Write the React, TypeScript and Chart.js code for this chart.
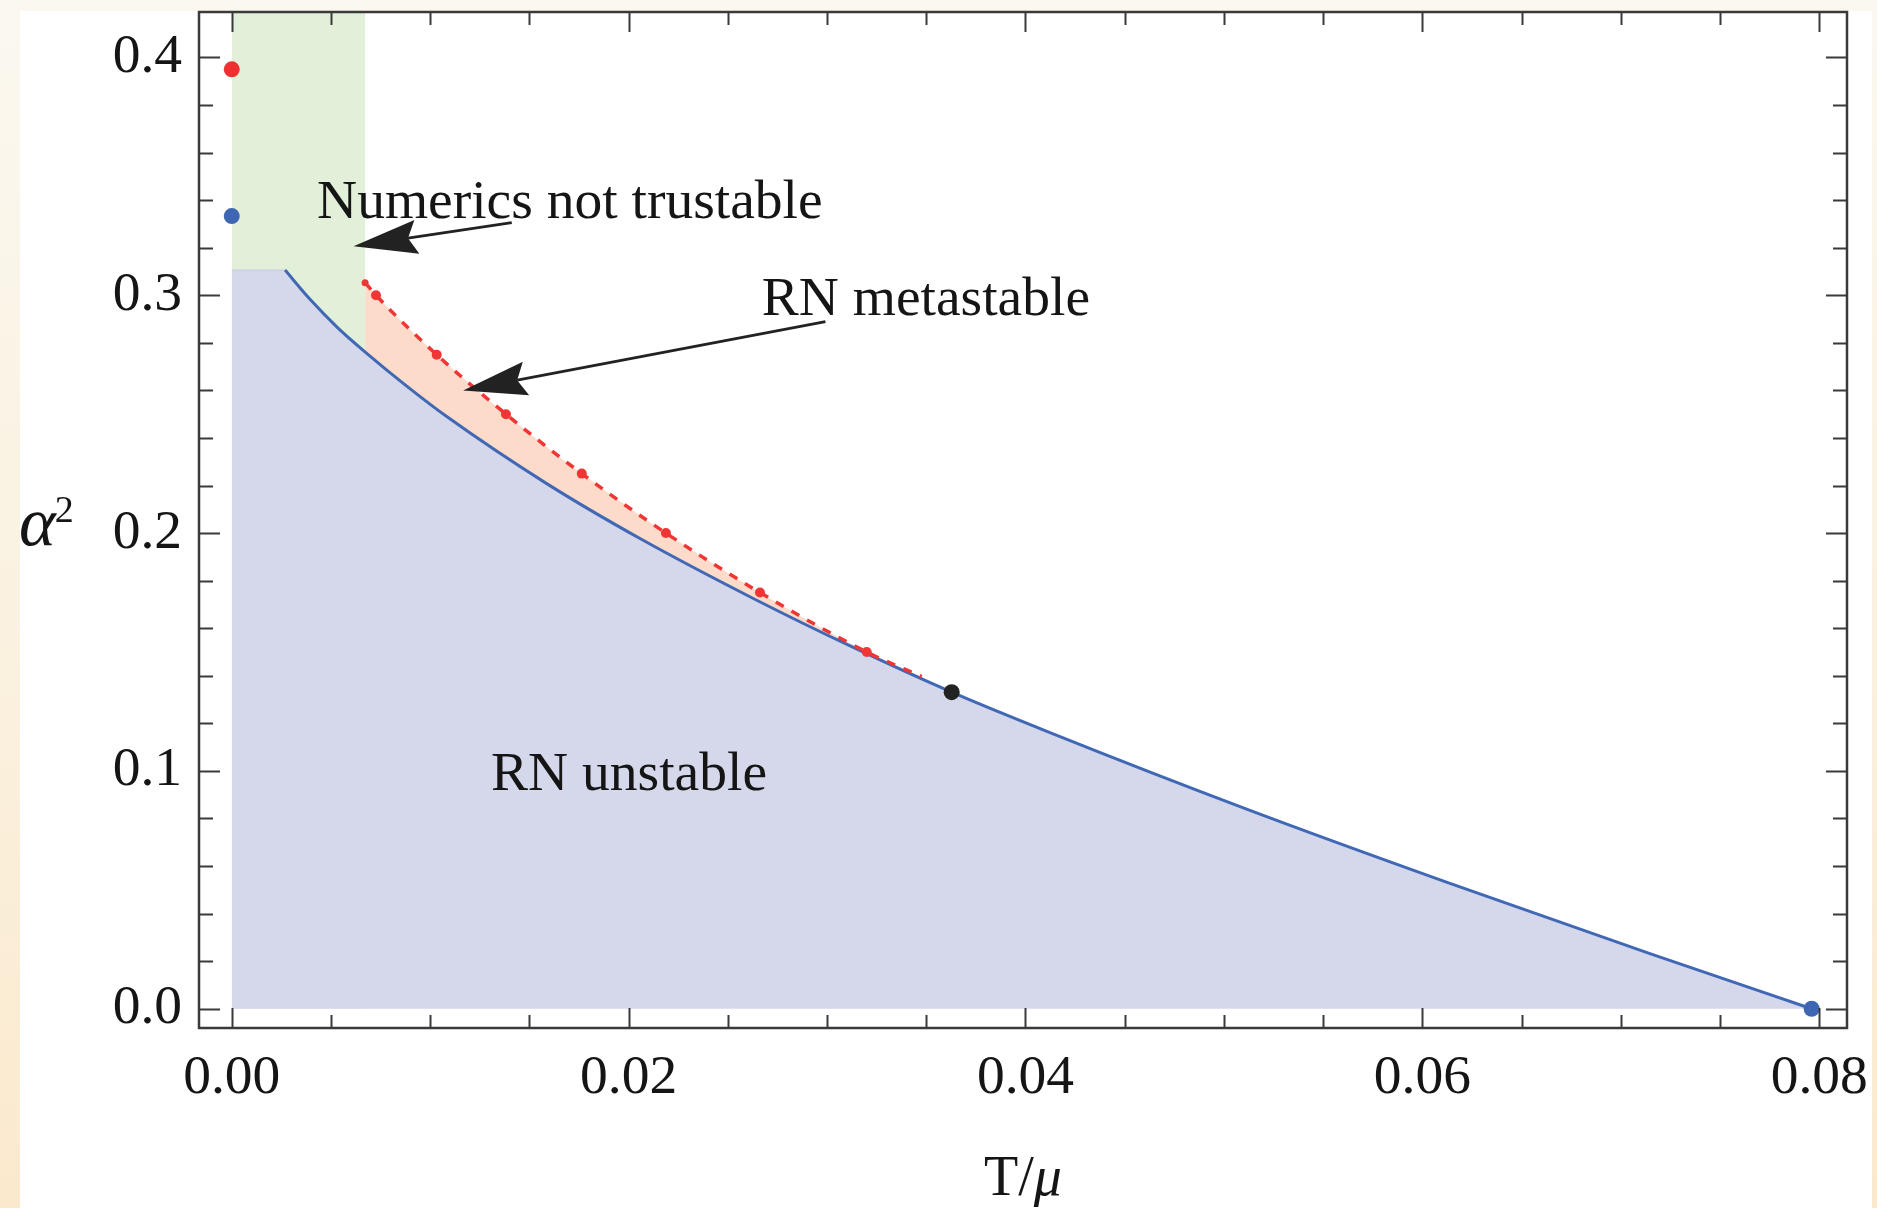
import React, { useEffect, useRef } from 'react';
import { Chart, registerables } from 'chart.js';

Chart.register(...registerables);

// ---------------- data ----------------
// Phase boundary (blue solid curve), T/mu vs alpha^2
const blueT = [0.002686, 0.003946, 0.005357, 0.006803, 0.008818, 0.010834, 0.015873, 0.020575, 0.026284, 0.031323, 0.036281, 0.041234, 0.051312, 0.061391, 0.071469, 0.079617];
const blueA = [0.3106, 0.2983, 0.2862, 0.2756, 0.2618, 0.249, 0.2208, 0.1977, 0.1725, 0.1519, 0.1331, 0.1161, 0.0834, 0.0527, 0.0232, 0.0];

// Flat top of the unstable region (x from 0 to the start of the blue curve)
const flatT = [0, 0.002686];
const flatA = [0.3106, 0.3106];

// Metastability boundary (red dashed curve)
const redT = [0.00672, 0.00727, 0.01033, 0.01382, 0.01764, 0.02188, 0.02662, 0.032, 0.03477];
const redA = [0.3053, 0.3, 0.275, 0.25, 0.225, 0.2, 0.175, 0.15, 0.1397];
const redMarkerSizes = [3.5, 5, 5, 5, 5, 5, 5, 5, 0];

// "Numerics not trustable" band
const greenT = [0, 0.00672];
const greenA = [0.4191, 0.4191];

// Isolated points
const redDotT = [0];
const redDotA = [0.395];
const blueDotT = [0, 0.079617];
const blueDotA = [0.3333, 0.0];
const blackDotT = [0.036281];
const blackDotA = [0.1331];

// Ticks
const xTickValues = [0, 0.02, 0.04, 0.06, 0.08];
const yTickValues = [0, 0.1, 0.2, 0.3, 0.4];
const xMinorStep = 0.005;
const yMinorStep = 0.02;

// Annotations (in data coordinates)
const labelTexts = ['Numerics not trustable', 'RN metastable', 'RN unstable'];
const labelT = [0.0043, 0.02671, 0.01307];
const labelA = [0.3325, 0.2917, 0.0921];
const arrowFromT = [0.01411, 0.02992];
const arrowFromA = [0.3305, 0.2889];
const arrowToT = [0.00614, 0.01166];
const arrowToA = [0.3206, 0.26];

// ---------------- styles ----------------
const FONT = '"Liberation Serif", "Times New Roman", serif';
const FS = 55.5;
const LAVENDER = '#d5d7eb';
const GREEN = '#e2efd9';
const PINK = '#fcdbca';
const BLUE = '#4068b4';
const RED = '#f03535';
const INK = '#151515';

const pts = (xs: number[], ys: number[]) => xs.map((x, i) => ({ x, y: ys[i] }));

function drawArrow(ctx: CanvasRenderingContext2D, x1: number, y1: number, x2: number, y2: number) {
  const ang = Math.atan2(y2 - y1, x2 - x1);
  const c = Math.cos(ang), s = Math.sin(ang);
  const L = 64, W = 17, notch = 9;
  const bx = x2 - L * c, by = y2 - L * s;
  const nx = x2 - (L - notch) * c, ny = y2 - (L - notch) * s;
  ctx.beginPath();
  ctx.moveTo(x1, y1);
  ctx.lineTo(nx, ny);
  ctx.lineWidth = 2.8;
  ctx.stroke();
  ctx.beginPath();
  ctx.moveTo(x2, y2);
  ctx.lineTo(bx - s * W, by + c * W);
  ctx.lineTo(nx, ny);
  ctx.lineTo(bx + s * W, by - c * W);
  ctx.closePath();
  ctx.fill();
}

const overlayPlugin = {
  id: 'overlay',
  afterDatasetsDraw(chart: any) {
    const { ctx, chartArea: a, scales } = chart;
    const xs = scales.x, ys = scales.y;
    ctx.save();

    // frame
    ctx.strokeStyle = '#3a3a3a';
    ctx.lineWidth = 2.5;
    ctx.strokeRect(a.left, a.top, a.right - a.left, a.bottom - a.top);

    // inward ticks on all four sides
    ctx.lineWidth = 2;
    ctx.beginPath();
    for (let k = 0; k <= 16; k++) {
      const v = k * xMinorStep;
      const major = k % 4 === 0;
      const len = major ? 20 : 13;
      const px = Math.round(xs.getPixelForValue(v)) + 0.5;
      ctx.moveTo(px, a.bottom);
      ctx.lineTo(px, a.bottom - len);
      ctx.moveTo(px, a.top);
      ctx.lineTo(px, a.top + len);
    }
    for (let k = 0; k <= 20; k++) {
      const v = k * yMinorStep;
      const major = k % 5 === 0;
      const len = major ? 21 : 14;
      const py = Math.round(ys.getPixelForValue(v)) + 0.5;
      ctx.moveTo(a.left, py);
      ctx.lineTo(a.left + len, py);
      ctx.moveTo(a.right, py);
      ctx.lineTo(a.right - len, py);
    }
    ctx.stroke();

    // arrows
    ctx.strokeStyle = '#222';
    ctx.fillStyle = '#222';
    for (let i = 0; i < arrowFromT.length; i++) {
      drawArrow(
        ctx,
        xs.getPixelForValue(arrowFromT[i]), ys.getPixelForValue(arrowFromA[i]),
        xs.getPixelForValue(arrowToT[i]), ys.getPixelForValue(arrowToA[i])
      );
    }

    // region labels
    ctx.fillStyle = INK;
    ctx.font = `${FS}px ${FONT}`;
    ctx.textAlign = 'left';
    ctx.textBaseline = 'alphabetic';
    for (let i = 0; i < labelTexts.length; i++) {
      ctx.fillText(labelTexts[i], xs.getPixelForValue(labelT[i]), ys.getPixelForValue(labelA[i]));
    }

    // y-axis title: alpha^2
    const yMid = (a.top + a.bottom) / 2;
    ctx.font = `italic 70px ${FONT}`;
    ctx.fillText('\u03b1', 19, yMid + 25);
    const aw = ctx.measureText('\u03b1').width;
    ctx.font = `38px ${FONT}`;
    ctx.fillText('2', 19 + aw - 1, yMid + 2);

    // x-axis title: T/mu
    ctx.font = `56px ${FONT}`;
    const w1 = ctx.measureText('T/').width;
    ctx.font = `italic 56px ${FONT}`;
    const w2 = ctx.measureText('\u03bc').width;
    const cx = (a.left + a.right) / 2;
    const x0 = cx - (w1 + w2) / 2;
    ctx.font = `56px ${FONT}`;
    ctx.fillText('T/', x0, 1195);
    ctx.font = `italic 56px ${FONT}`;
    ctx.fillText('\u03bc', x0 + w1, 1195);

    ctx.restore();
  },
};

export default function App() {
  const ref = useRef<HTMLCanvasElement | null>(null);

  useEffect(() => {
    if (!ref.current) return;
    const chart = new Chart(ref.current, {
      type: 'line',
      data: {
        datasets: [
          {
            label: 'red point',
            data: pts(redDotT, redDotA),
            showLine: false,
            pointRadius: 8,
            pointBackgroundColor: '#ee3030',
            pointBorderWidth: 0,
            order: 0,
          },
          {
            label: 'blue points',
            data: pts(blueDotT, blueDotA),
            showLine: false,
            pointRadius: 8,
            pointBackgroundColor: '#3e66b3',
            pointBorderWidth: 0,
            order: 0,
          },
          {
            label: 'black point',
            data: pts(blackDotT, blackDotA),
            showLine: false,
            pointRadius: 8,
            pointBackgroundColor: '#222222',
            pointBorderWidth: 0,
            order: 0,
          },
          {
            label: 'RN metastable boundary',
            data: pts(redT, redA),
            borderColor: RED,
            borderWidth: 3.5,
            borderDash: [9, 9],
            backgroundColor: PINK,
            pointRadius: redMarkerSizes,
            pointBackgroundColor: RED,
            pointBorderWidth: 0,
            cubicInterpolationMode: 'monotone',
            fill: { target: 4, above: PINK, below: PINK },
            order: 1,
          },
          {
            label: 'RN unstable boundary',
            data: pts(blueT, blueA),
            borderColor: BLUE,
            borderWidth: 3,
            backgroundColor: LAVENDER,
            pointRadius: 0,
            cubicInterpolationMode: 'monotone',
            fill: 'origin',
            order: 2,
          },
          {
            label: 'flat top',
            data: pts(flatT, flatA),
            borderColor: '#c5c9e6',
            borderWidth: 1,
            backgroundColor: LAVENDER,
            pointRadius: 0,
            fill: 'origin',
            order: 3,
          },
          {
            label: 'numerics not trustable',
            data: pts(greenT, greenA),
            borderWidth: 0,
            borderColor: GREEN,
            backgroundColor: GREEN,
            pointRadius: 0,
            fill: 'origin',
            order: 4,
          },
        ],
      },
      options: {
        responsive: false,
        devicePixelRatio: 1,
        animation: false,
        events: [],
        layout: { padding: { left: 0, right: 30, top: 12, bottom: 0 }, autoPadding: false },
        plugins: {
          legend: { display: false },
          tooltip: { enabled: false },
          filler: { drawTime: 'beforeDatasetsDraw' },
        },
        scales: {
          x: {
            type: 'linear',
            position: 'bottom',
            min: -0.00165,
            max: 0.0814,
            grid: { display: false, drawTicks: false },
            border: { display: false },
            afterBuildTicks: (s: any) => {
              s.ticks = xTickValues.map((v) => ({ value: v }));
            },
            afterFit: (s: any) => {
              s.height = 180;
              s.paddingLeft = 0;
              s.paddingRight = 0;
            },
            ticks: {
              padding: 17,
              maxRotation: 0,
              autoSkip: false,
              color: INK,
              font: { family: FONT, size: FS },
              callback: (v: any) => Number(v).toFixed(2),
            },
          },
          y: {
            type: 'linear',
            position: 'left',
            min: -0.0081,
            max: 0.4191,
            grid: { display: false, drawTicks: false },
            border: { display: false },
            afterBuildTicks: (s: any) => {
              s.ticks = yTickValues.map((v) => ({ value: v }));
            },
            afterFit: (s: any) => {
              s.width = 199;
              s.paddingTop = 0;
              s.paddingBottom = 0;
            },
            ticks: {
              padding: 17,
              autoSkip: false,
              color: INK,
              font: { family: FONT, size: FS },
              callback: (v: any) => Number(v).toFixed(1),
            },
          },
        },
      },
      plugins: [overlayPlugin],
    } as any);
    return () => chart.destroy();
  }, []);

  return (
    <div
      style={{
        position: 'absolute',
        left: 0,
        top: 0,
        width: 1877,
        height: 1208,
        overflow: 'hidden',
        background: 'linear-gradient(to bottom, #fbf8f0 0%, #faf1df 55%, #fbe9cd 100%)',
      }}
    >
      <div style={{ position: 'absolute', left: 20, top: 11, width: 1852, height: 1197, background: '#ffffff' }} />
      <canvas
        ref={ref}
        width={1877}
        height={1208}
        style={{ position: 'absolute', left: 0, top: 0, width: 1877, height: 1208 }}
      />
    </div>
  );
}
